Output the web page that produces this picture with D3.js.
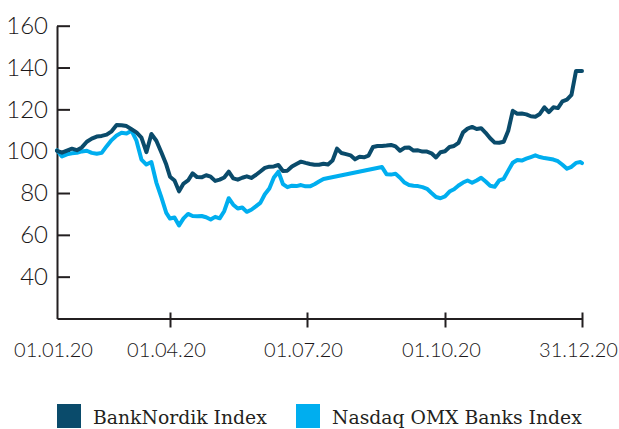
<!DOCTYPE html>
<html lang="en">
<head>
  <meta charset="UTF-8">
  <script src="https://d3js.org/d3.v7.min.js"></script>
  <style>
    body {
      margin: 0;
      padding: 0;
      background: #fff;
      overflow: hidden;
    }
    .axis text {
      font-family: Lato, "Open Sans", sans-serif;
      font-weight: 300;
      fill: #1a1718;
    }
    .legend text {
      font-family: "DejaVu Serif", serif;
      font-size: 18.8px;
      fill: #231f20;
    }
  </style>
</head>
<body>
  <script>
    // trading dates (dd.mm.yy) shared by both series
    const dates = [
      "01.01.20", "05.01.20", "09.01.20", "13.01.20", "17.01.20", "21.01.20", "25.01.20", "29.01.20",
      "02.02.20", "06.02.20", "10.02.20", "14.02.20", "18.02.20", "22.02.20", "26.02.20",
      "01.03.20", "05.03.20", "09.03.20", "13.03.20", "17.03.20", "21.03.20", "25.03.20", "29.03.20",
      "01.04.20", "04.04.20", "07.04.20", "10.04.20", "13.04.20", "16.04.20", "19.04.20", "22.04.20", "25.04.20", "28.04.20",
      "01.05.20", "04.05.20", "07.05.20", "10.05.20", "13.05.20", "16.05.20", "19.05.20", "22.05.20", "25.05.20", "28.05.20", "31.05.20",
      "03.06.20", "06.06.20", "09.06.20", "12.06.20", "15.06.20", "18.06.20", "21.06.20", "24.06.20", "27.06.20", "30.06.20",
      "03.07.20", "06.07.20", "09.07.20", "12.07.20", "15.07.20", "18.07.20", "21.07.20", "24.07.20", "27.07.20", "30.07.20",
      "02.08.20", "05.08.20", "08.08.20", "11.08.20", "14.08.20", "17.08.20", "20.08.20", "23.08.20", "26.08.20", "29.08.20",
      "01.09.20", "04.09.20", "07.09.20", "10.09.20", "13.09.20", "16.09.20", "19.09.20", "22.09.20", "25.09.20", "28.09.20",
      "01.10.20", "04.10.20", "07.10.20", "10.10.20", "13.10.20", "16.10.20", "19.10.20", "22.10.20", "25.10.20", "28.10.20", "31.10.20",
      "03.11.20", "06.11.20", "09.11.20", "12.11.20", "15.11.20", "18.11.20", "21.11.20", "24.11.20", "27.11.20", "30.11.20",
      "03.12.20", "06.12.20", "09.12.20", "12.12.20", "15.12.20", "18.12.20", "21.12.20", "24.12.20", "27.12.20", "30.12.20", "31.12.20"
    ];

    const bankNordik = [
      100.2, 99.3, 100.3, 101.2, 100.5, 101.8, 104.5, 106,
      107, 107.3, 107.9, 109.5, 112.5, 112.4, 112,
      110.5, 109, 106.5, 99.5, 108.2, 105, 99.5, 93.6,
      87.8, 86, 80.8, 84.5, 86, 89.4, 87.6, 87.5, 88.5, 87.8,
      85.8, 86.4, 87.4, 90.2, 87, 86.4, 87.3, 88, 87.2, 88.6, 90.3,
      92, 92.6, 92.7, 93.4, 90.5, 90.7, 92.7, 93.9, 95, 94.4,
      93.9, 93.5, 93.5, 94, 93.6, 95.5, 101.2, 99.1, 98.6, 98,
      96.1, 97.3, 97.1, 97.9, 102, 102.5, 102.5, 102.7, 103, 102.3,
      100.2, 101.6, 101.8, 100.3, 100.4, 99.8, 99.8, 99, 97, 99.5,
      100, 102, 102.5, 104, 109, 110.8, 111.6, 110.6, 111, 108.8, 106.2,
      104.1, 104, 104.5, 109.8, 119.3, 117.9, 118, 117.6, 116.7, 116.5,
      117.8, 121, 118.7, 121, 120.6, 123.8, 124.6, 126.9, 138.3, 138.3, 138.3
    ];

    // null = no quote, the line is drawn straight across
    const nasdaqBanks = [
      100.4, 97.5, 98.5, 99, 99.2, 99.9, 100.2, 99.2,
      98.8, 99.2, 102.4, 105.3, 107.5, 108.8, 108.5,
      109.8, 105, 96, 93.6, 94.8, 85, 78, 70.5,
      67.8, 68.3, 64.5, 67.9, 70, 69, 68.9, 69, 68.4, 67.3,
      68.6, 67.9, 71.3, 77.5, 74.4, 72.6, 73.1, 71, 72, 73.6, 75.3,
      79.4, 82.2, 87.4, 90.2, 84.3, 82.8, 83.5, 83.3, 83.8, 83.2,
      83.2, 84.2, 85.5, 86.7, null, null, null, null, null, null,
      null, null, null, null, null, null, 92.4, 89, 88.8, 89.2,
      87.3, 85, 83.8, 83.5, 83.3, 82.8, 82, 80, 78.1, 77.5,
      78.4, 80.7, 81.8, 83.6, 85, 86, 84.9, 86, 87.3, 85.5, 83.5,
      83, 86, 86.8, 90.7, 94.5, 95.8, 95.5, 96.4, 97.2, 98,
      97.2, 96.7, 96.4, 96, 95.2, 93.5, 91.6, 92.5, 94.4, 94.8, 94.3
    ];

    const xTicks = ["01.01.20", "01.04.20", "01.07.20", "01.10.20", "31.12.20"];
    const yTicks = [40, 60, 80, 100, 120, 140, 160];
    const seriesNames = ["BankNordik Index", "Nasdaq OMX Banks Index"];
    const seriesColors = ["#0a4b6b", "#00aeef"];

    const parseDate = d3.timeParse("%d.%m.%y");
    const fmtDate = d3.timeFormat("%d.%m.%y");

    const svg = d3.select("body").append("svg")
      .attr("width", 619)
      .attr("height", 429);

    // quarter ticks are not evenly spaced in the original, so the time scale is piecewise
    const x = d3.scaleTime()
      .domain(xTicks.map(parseDate))
      .range([57, 170, 307, 445, 582]);

    const y = d3.scaleLinear()
      .domain([20, 160])
      .range([318.5, 25.7]);

    // y axis, ticks point inward
    const yAxis = svg.append("g")
      .attr("class", "axis")
      .attr("transform", "translate(57,0)")
      .call(d3.axisLeft(y).tickValues(yTicks).tickSize(-13).tickSizeOuter(0).tickPadding(9));
    yAxis.selectAll("text").style("font-size", "24px");

    // x axis, ticks cross the line
    const xAxis = svg.append("g")
      .attr("class", "axis")
      .attr("transform", "translate(0,318.5)")
      .call(d3.axisBottom(x).tickValues(xTicks.map(parseDate)).tickFormat(fmtDate).tickSize(9).tickSizeOuter(0));
    xAxis.selectAll(".tick line").attr("y1", -6);
    xAxis.selectAll(".tick").filter((d, i) => i === 0).select("line").remove();
    xAxis.selectAll("text")
      .attr("y", 38.5)
      .attr("dy", 0)
      .attr("dx", -4)
      .style("font-size", "20px");

    svg.selectAll(".axis path, .axis line")
      .attr("stroke", "#231f20")
      .attr("stroke-width", 2);

    const line = d3.line()
      .x(d => x(d.date))
      .y(d => y(d.value));

    const series = [bankNordik, nasdaqBanks].map(vals =>
      vals.map((v, i) => ({ date: parseDate(dates[i]), value: v })).filter(d => d.value !== null)
    );

    // lighter series drawn first, BankNordik on top
    [1, 0].forEach(k => {
      svg.append("path")
        .datum(series[k])
        .attr("fill", "none")
        .attr("stroke", seriesColors[k])
        .attr("stroke-width", 4)
        .attr("stroke-linejoin", "round")
        .attr("stroke-linecap", "round")
        .attr("d", line);
    });

    // legend
    const legend = svg.append("g").attr("class", "legend");
    const legendX = [57, 296];
    seriesNames.forEach((name, i) => {
      legend.append("rect")
        .attr("x", legendX[i])
        .attr("y", 404)
        .attr("width", 24)
        .attr("height", 24)
        .attr("fill", seriesColors[i]);
      legend.append("text")
        .attr("x", legendX[i] + 36)
        .attr("y", 424)
        .text(name);
    });
  </script>
</body>
</html>
